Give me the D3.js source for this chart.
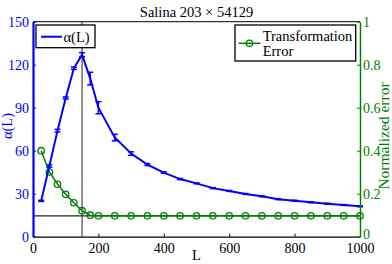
<!DOCTYPE html>
<html>
<head>
<meta charset="utf-8">
<script src="https://cdn.jsdelivr.net/npm/d3@7"></script>
<style>
  html, body { margin: 0; padding: 0; background: #fff; }
  svg, svg text { font-family: "Liberation Serif", "DejaVu Serif", serif !important; }
</style>
</head>
<body>
<svg id="chart" width="392" height="264"></svg>
<script>
// ---- data ----
const title = "Salina 203 \u00d7 54129";
const alphaL = [25, 50, 75, 100, 125, 150, 175, 200, 250, 300, 350, 400, 450, 500, 550, 600, 650, 700, 750, 800, 850, 900, 950, 1000];
const alphaVal = [25, 49.3, 74, 96.8, 117.5, 127, 110.3, 90, 69.2, 58, 50.3, 44.7, 40.2, 37.2, 33.9, 31.9, 29.8, 28.2, 26.2, 25.1, 24, 23, 22.1, 21.2];
const alphaErr = [0.4, 0.8, 0.9, 0.7, 0.8, 1.4, 4.4, 4.2, 2.3, 1.2, 0.7, 0.5, 0.4, 0.3, 0.3, 0.3, 0.3, 0.3, 0.3, 0.3, 0.3, 0.3, 0.3, 0.3];
const errL = [25, 50, 75, 100, 125, 150, 175, 200, 250, 300, 350, 400, 450, 500, 550, 600, 650, 700, 750, 800, 850, 900, 950, 1000];
const errVal = [0.400, 0.301, 0.244, 0.197, 0.158, 0.121, 0.100, 0.097, 0.097, 0.097, 0.097, 0.097, 0.097, 0.097, 0.097, 0.097, 0.097, 0.097, 0.097, 0.097, 0.097, 0.097, 0.097, 0.097];
const optimalL = 150;
const thresholdErr = 0.097;
const xTicks = [0, 200, 400, 600, 800, 1000];
const yLeftTicks = [0, 30, 60, 90, 120, 150];
const yRightTicks = [0, 0.2, 0.4, 0.6, 0.8, 1];
const xLabel = "L";
const yLeftLabel = "\u03b1(L)";
const yRightLabel = "Normalized error";
const legendAlpha = "\u03b1(L)";
const legendErr = ["Transformation", "Error"];

// ---- layout ----
const BLUE = "#0000ff", GREEN = "#008000";
const pLeft = 33, pRight = 360, pTop = 21.7, pBottom = 236.7;
const FS = 14;

const svg = d3.select("#chart");
const x = d3.scaleLinear().domain([0, 1000]).range([pLeft, pRight]);
const yL = d3.scaleLinear().domain([0, 150]).range([pBottom, pTop]);
const yR = d3.scaleLinear().domain([0, 1]).range([pBottom, pTop]);

// reference lines
svg.append("line")
  .attr("x1", x(optimalL)).attr("x2", x(optimalL))
  .attr("y1", pBottom).attr("y2", pTop)
  .attr("stroke", "#222").attr("stroke-width", 1);
svg.append("line")
  .attr("x1", pLeft).attr("x2", pRight)
  .attr("y1", yR(thresholdErr)).attr("y2", yR(thresholdErr))
  .attr("stroke", "#222").attr("stroke-width", 1.3);

// green series
const errData = errL.map((l, i) => ({ l, v: errVal[i] }));
svg.append("path")
  .datum(errData)
  .attr("fill", "none").attr("stroke", GREEN).attr("stroke-width", 1.5)
  .attr("d", d3.line().x(d => x(d.l)).y(d => yR(d.v)));
svg.selectAll("circle.err").data(errData).enter().append("circle")
  .attr("class", "err")
  .attr("cx", d => x(d.l)).attr("cy", d => yR(d.v)).attr("r", 3.2)
  .attr("fill", "none").attr("stroke", GREEN).attr("stroke-width", 1.3);

// blue series
const aData = alphaL.map((l, i) => ({ l, v: alphaVal[i], e: alphaErr[i] }));
svg.append("path")
  .datum(aData)
  .attr("fill", "none").attr("stroke", BLUE).attr("stroke-width", 2)
  .attr("d", d3.line().x(d => x(d.l)).y(d => yL(d.v)));
const eb = svg.selectAll("g.eb").data(aData).enter().append("g").attr("class", "eb");
eb.append("line")
  .attr("x1", d => x(d.l)).attr("x2", d => x(d.l))
  .attr("y1", d => yL(d.v - d.e)).attr("y2", d => yL(d.v + d.e))
  .attr("stroke", BLUE).attr("stroke-width", 1.5);
[-1, 1].forEach(s => {
  eb.append("line")
    .attr("x1", d => x(d.l) - 3).attr("x2", d => x(d.l) + 3)
    .attr("y1", d => yL(d.v + s * d.e)).attr("y2", d => yL(d.v + s * d.e))
    .attr("stroke", BLUE).attr("stroke-width", 1.5);
});

// top border
svg.append("line")
  .attr("x1", pLeft).attr("x2", pRight).attr("y1", pTop).attr("y2", pTop)
  .attr("stroke", "#000").attr("stroke-width", 1);

// axes
const gx = svg.append("g").attr("transform", `translate(0,${pBottom})`)
  .call(d3.axisBottom(x).tickValues(xTicks).tickSize(-3).tickSizeOuter(0).tickPadding(6).tickFormat(d3.format("d")));
gx.attr("font-size", FS);
gx.select(".domain").attr("stroke", "#000").attr("stroke-width", 1.3);
gx.selectAll(".tick line").attr("stroke", "#000");
gx.selectAll("text").attr("fill", "#000");

const gl = svg.append("g").attr("transform", `translate(${pLeft},0)`)
  .call(d3.axisLeft(yL).tickValues(yLeftTicks).tickSize(-3).tickSizeOuter(0).tickPadding(4));
gl.attr("font-size", FS);
gl.select(".domain").attr("stroke", BLUE).attr("stroke-width", 2.2);
gl.selectAll(".tick line").attr("stroke", BLUE);
gl.selectAll("text").attr("fill", BLUE);

const gr = svg.append("g").attr("transform", `translate(${pRight},0)`)
  .call(d3.axisRight(yR).tickValues(yRightTicks).tickSize(-3).tickSizeOuter(0).tickPadding(3)
    .tickFormat(d => d === 0 || d === 1 ? String(d) : d3.format(".1f")(d)));
gr.attr("font-size", FS);
gr.select(".domain").attr("stroke", GREEN).attr("stroke-width", 1.5);
gr.selectAll(".tick line").attr("stroke", GREEN);
gr.selectAll("text").attr("fill", GREEN);
gr.selectAll(".tick").filter(d => d === 0).select("text").attr("dy", "0.1em");

// titles / labels
svg.append("text").attr("x", (pLeft + pRight) / 2).attr("y", 16.5)
  .attr("text-anchor", "middle").attr("font-size", 14.5).attr("fill", "#000").text(title);
svg.append("text").attr("x", (pLeft + pRight) / 2).attr("y", 260)
  .attr("text-anchor", "middle").attr("font-size", 14.5).attr("fill", "#000").text(xLabel);
svg.append("text")
  .attr("transform", `translate(12,126) rotate(-90)`)
  .attr("text-anchor", "middle").attr("font-size", 14.5).attr("fill", BLUE).text(yLeftLabel);
svg.append("text")
  .attr("transform", `translate(389,136) rotate(-90)`)
  .attr("text-anchor", "middle").attr("font-size", 15.5).attr("fill", GREEN).text(yRightLabel);

// legend 1
svg.append("rect").attr("x", 36).attr("y", 25).attr("width", 59).attr("height", 22.7)
  .attr("fill", "#fff").attr("stroke", "#000").attr("stroke-width", 1.3);
svg.append("line").attr("x1", 41).attr("x2", 62).attr("y1", 36.7).attr("y2", 36.7)
  .attr("stroke", BLUE).attr("stroke-width", 2);
svg.append("text").attr("x", 63.5).attr("y", 42).attr("font-size", 14.5).attr("fill", "#000").text(legendAlpha);

// legend 2
svg.append("rect").attr("x", 235).attr("y", 25).attr("width", 120.7).attr("height", 36)
  .attr("fill", "#fff").attr("stroke", "#000").attr("stroke-width", 1.3);
svg.append("line").attr("x1", 238.5).attr("x2", 260.5).attr("y1", 43.3).attr("y2", 43.3)
  .attr("stroke", GREEN).attr("stroke-width", 1.5);
svg.append("circle").attr("cx", 249.5).attr("cy", 43.3).attr("r", 3.2)
  .attr("fill", "none").attr("stroke", GREEN).attr("stroke-width", 1.3);
svg.append("text").attr("x", 262.7).attr("y", 40.7).attr("font-size", 14.5).attr("fill", "#000").text(legendErr[0]);
svg.append("text").attr("x", 262.7).attr("y", 56).attr("font-size", 14.5).attr("fill", "#000").text(legendErr[1]);
</script>
</body>
</html>
